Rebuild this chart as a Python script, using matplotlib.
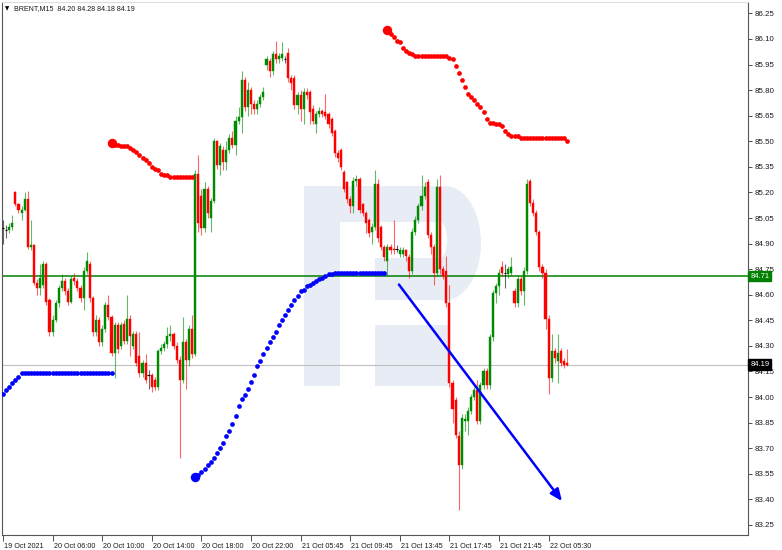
import matplotlib
matplotlib.use('Agg')
import matplotlib.pyplot as plt
from matplotlib.patches import Rectangle, Ellipse
import matplotlib.transforms as mtransforms

# ---------------- data ----------------
opens = [84.99, 84.98, 84.98, 85.00, 85.20, 85.13, 85.08, 85.10, 85.16, 84.88,
         84.89, 84.67, 84.64, 84.66, 84.78, 84.57, 84.38, 84.45, 84.55, 84.64,
         84.68, 84.62, 84.56, 84.70, 84.68, 84.64, 84.58, 84.74, 84.78, 84.58,
         84.38, 84.45, 84.32, 84.40, 84.54, 84.47, 84.26, 84.42, 84.30, 84.43,
         84.33, 84.46, 84.30, 84.37, 84.24, 84.14, 84.20, 84.13, 84.13, 84.10,
         84.06, 84.27, 84.29, 84.31, 84.36, 84.37, 84.30, 84.22, 84.10, 84.32,
         84.22, 84.40, 84.25, 85.31, 85.18, 84.99, 85.22, 85.05, 85.15, 85.50,
         85.36, 85.45, 85.38, 85.45, 85.52, 85.48, 85.62, 85.64, 85.86, 85.70,
         85.80, 85.72, 85.69, 85.72, 85.76, 85.95, 85.97, 85.91, 86.01, 85.98,
         85.99, 85.98, 86.02, 85.87, 85.87, 85.71, 85.77, 85.69, 85.79, 85.79,
         85.69, 85.60, 85.66, 85.68, 85.67, 85.66, 85.63, 85.56, 85.43, 85.45,
         85.32, 85.26, 85.16, 85.12, 85.27, 85.28, 85.13, 85.08, 85.04, 84.97,
         85.00, 85.25, 85.00, 84.88, 84.80, 84.88, 84.87, 84.87, 84.84, 84.84,
         84.86, 84.82, 84.74, 84.97, 85.04, 85.12, 85.18, 85.26, 84.95, 84.88,
         84.73, 85.23, 84.75, 84.74, 84.55, 84.08, 83.98, 83.77, 83.60, 83.86,
         83.86, 83.92, 84.00, 84.04, 83.86, 84.07, 84.15, 84.07, 84.35, 84.61,
         84.65, 84.76, 84.73, 84.72, 84.73, 84.62, 84.55, 84.69, 84.62, 84.74,
         85.27, 85.14, 85.08, 84.97, 84.76, 84.73, 84.46, 84.11, 84.27, 84.21,
         84.27, 84.21, 84.20]
highs = [85.04, 85.01, 85.02, 85.07, 85.21, 85.14, 85.12, 85.20, 85.21, 85.04,
         84.90, 84.69, 84.78, 84.80, 84.79, 84.58, 84.48, 84.57, 84.66, 84.72,
         84.70, 84.64, 84.71, 84.73, 84.70, 84.66, 84.76, 84.85, 84.80, 84.59,
         84.48, 84.47, 84.42, 84.56, 84.60, 84.48, 84.44, 84.44, 84.44, 84.45,
         84.60, 84.48, 84.39, 84.39, 84.38, 84.22, 84.25, 84.16, 84.14, 84.12,
         84.28, 84.31, 84.33, 84.41, 84.42, 84.38, 84.32, 84.24, 84.47, 84.34,
         84.42, 84.48, 85.33, 85.42, 85.22, 85.26, 85.24, 85.17, 85.52, 85.51,
         85.49, 85.47, 85.50, 85.54, 85.56, 85.65, 85.70, 85.91, 85.88, 85.85,
         85.82, 85.74, 85.74, 85.78, 85.82, 86.00, 85.99, 86.03, 86.09, 86.02,
         86.08, 86.00, 86.05, 85.89, 85.89, 85.79, 85.80, 85.81, 85.81, 85.80,
         85.71, 85.68, 85.70, 85.69, 85.78, 85.67, 85.64, 85.57, 85.45, 85.46,
         85.33, 85.27, 85.18, 85.29, 85.30, 85.29, 85.14, 85.09, 85.05, 85.02,
         85.33, 85.28, 85.01, 84.89, 84.90, 84.90, 85.04, 84.89, 84.88, 84.88,
         84.87, 84.84, 84.99, 85.06, 85.14, 85.30, 85.26, 85.28, 84.97, 84.90,
         85.28, 85.30, 84.77, 84.83, 84.66, 84.10, 84.00, 83.80, 83.90, 83.90,
         83.94, 84.02, 84.06, 84.10, 84.09, 84.17, 84.17, 84.37, 84.63, 84.67,
         84.75, 84.80, 84.78, 84.77, 84.82, 84.64, 84.71, 84.71, 84.76, 85.28,
         85.28, 85.16, 85.10, 84.98, 84.78, 84.75, 84.48, 84.37, 84.29, 84.37,
         84.29, 84.23, 84.28]
lows = [84.90, 84.93, 84.96, 84.98, 85.12, 85.08, 85.04, 85.09, 84.87, 84.86,
        84.66, 84.60, 84.60, 84.64, 84.54, 84.36, 84.36, 84.44, 84.53, 84.62,
        84.60, 84.54, 84.55, 84.66, 84.62, 84.56, 84.51, 84.72, 84.56, 84.36,
        84.36, 84.30, 84.30, 84.38, 84.45, 84.24, 84.11, 84.26, 84.28, 84.31,
        84.31, 84.24, 84.28, 84.18, 84.12, 84.12, 84.08, 84.05, 84.03, 84.04,
        84.04, 84.25, 84.27, 84.29, 84.33, 84.28, 84.20, 83.64, 84.08, 84.05,
        84.18, 84.23, 84.24, 84.97, 84.95, 84.97, 85.05, 84.97, 85.14, 85.34,
        85.30, 85.33, 85.33, 85.43, 85.46, 85.42, 85.60, 85.55, 85.68, 85.65,
        85.66, 85.66, 85.66, 85.70, 85.74, 85.92, 85.88, 85.89, 85.96, 85.96,
        85.97, 85.96, 85.85, 85.80, 85.69, 85.66, 85.62, 85.60, 85.75, 85.60,
        85.60, 85.55, 85.64, 85.64, 85.63, 85.58, 85.53, 85.41, 85.38, 85.33,
        85.20, 85.14, 85.08, 85.08, 85.24, 85.08, 85.06, 84.96, 84.94, 84.90,
        84.98, 84.91, 84.86, 84.80, 84.71, 84.84, 84.84, 84.85, 84.82, 84.82,
        84.80, 84.70, 84.72, 84.95, 85.02, 85.10, 85.16, 84.93, 84.84, 84.66,
        84.71, 84.72, 84.69, 84.53, 84.06, 83.85, 83.76, 83.34, 83.58, 83.80,
        83.78, 83.90, 83.98, 83.84, 83.84, 84.05, 84.05, 84.05, 84.33, 84.55,
        84.60, 84.71, 84.64, 84.70, 84.71, 84.53, 84.53, 84.60, 84.54, 84.72,
        85.12, 85.06, 84.95, 84.74, 84.70, 84.40, 84.02, 84.09, 84.20, 84.08,
        84.18, 84.17, 84.18]
closes = [84.99, 84.98, 85.00, 85.02, 85.13, 85.10, 85.10, 85.16, 84.88, 84.89,
          84.67, 84.64, 84.70, 84.78, 84.56, 84.38, 84.45, 84.55, 84.64, 84.68,
          84.62, 84.56, 84.69, 84.68, 84.64, 84.58, 84.74, 84.80, 84.58, 84.38,
          84.45, 84.32, 84.40, 84.54, 84.47, 84.26, 84.42, 84.28, 84.42, 84.33,
          84.46, 84.36, 84.37, 84.20, 84.14, 84.20, 84.10, 84.13, 84.06, 84.06,
          84.27, 84.29, 84.31, 84.36, 84.37, 84.30, 84.22, 84.10, 84.32, 84.22,
          84.40, 84.25, 85.31, 85.02, 84.99, 85.22, 85.08, 85.15, 85.50, 85.36,
          85.47, 85.38, 85.45, 85.52, 85.48, 85.62, 85.64, 85.86, 85.70, 85.80,
          85.72, 85.69, 85.72, 85.76, 85.79, 85.98, 85.91, 86.01, 85.98, 86.00,
          86.01, 85.98, 85.87, 85.84, 85.71, 85.77, 85.69, 85.79, 85.77, 85.67,
          85.62, 85.66, 85.68, 85.66, 85.65, 85.60, 85.55, 85.43, 85.40, 85.35,
          85.22, 85.16, 85.12, 85.27, 85.28, 85.10, 85.08, 85.02, 84.96, 85.00,
          85.25, 84.93, 84.88, 84.82, 84.88, 84.86, 84.86, 84.87, 84.86, 84.86,
          84.83, 84.74, 84.97, 85.04, 85.12, 85.18, 85.23, 84.95, 84.88, 84.73,
          85.23, 84.75, 84.71, 84.55, 84.08, 83.93, 83.78, 83.60, 83.88, 83.87,
          83.92, 84.00, 84.04, 83.86, 84.07, 84.15, 84.07, 84.35, 84.61, 84.65,
          84.73, 84.73, 84.73, 84.75, 84.76, 84.55, 84.69, 84.62, 84.74, 85.25,
          85.14, 85.08, 84.97, 84.76, 84.73, 84.46, 84.11, 84.27, 84.23, 84.26,
          84.20, 84.19, 84.19]

time_tick_bars = [0, 16, 32, 48, 64, 80, 96, 112, 128, 144, 160, 176]
time_tick_labels = ['19 Oct 2021', '20 Oct 06:00', '20 Oct 10:00', '20 Oct 14:00',
                    '20 Oct 18:00', '20 Oct 22:00', '21 Oct 05:45', '21 Oct 09:45',
                    '21 Oct 13:45', '21 Oct 17:45', '21 Oct 21:45', '22 Oct 05:30']
price_ticks = [83.25, 83.40, 83.55, 83.70, 83.85, 84.00, 84.15, 84.30, 84.45,
               84.60, 84.75, 84.90, 85.05, 85.20, 85.35, 85.50, 85.65, 85.80,
               85.95, 86.10, 86.25]

red_seg1_start = 35
red_seg1 = [85.49, 85.48, 85.48, 85.47, 85.47, 85.47, 85.46, 85.45, 85.44, 85.42,
            85.40, 85.39, 85.37, 85.35, 85.34, 85.33, 85.31, 85.30, 85.30, 85.29,
            85.29, 85.29, 85.29, 85.29, 85.29, 85.29, 85.29]
red_seg2_start = 124
red_seg2 = [86.15, 86.13, 86.11, 86.09, 86.08, 86.05, 86.03, 86.02, 86.01, 86.00,
            86.00, 86.00, 86.00, 86.00, 86.00, 86.00, 86.00, 86.00, 86.00, 86.00,
            85.99, 85.98, 85.94, 85.90, 85.86, 85.82, 85.78, 85.76, 85.74, 85.72,
            85.70, 85.67, 85.63, 85.61, 85.61, 85.60, 85.60, 85.59, 85.56, 85.54,
            85.53, 85.53, 85.53, 85.52, 85.52, 85.52, 85.52, 85.52, 85.52, 85.52,
            85.52, 85.52, 85.52, 85.52, 85.52, 85.52, 85.52, 85.52, 85.50]
blue_seg1_start = 0
blue_seg1 = [84.02, 84.04, 84.06, 84.08, 84.10, 84.12, 84.14, 84.14, 84.14, 84.14,
             84.14, 84.14, 84.14, 84.14, 84.14, 84.14, 84.14, 84.14, 84.14, 84.14,
             84.14, 84.14, 84.14, 84.14, 84.14, 84.14, 84.14, 84.14, 84.14, 84.14,
             84.14, 84.14, 84.14, 84.14, 84.14, 84.14]
blue_seg2_start = 62
blue_seg2 = [83.53, 83.54, 83.56, 83.58, 83.60, 83.62, 83.64, 83.67, 83.70, 83.73,
             83.77, 83.80, 83.84, 83.89, 83.95, 83.99, 84.01, 84.05, 84.09, 84.13,
             84.18, 84.21, 84.25, 84.29, 84.32, 84.35, 84.38, 84.42, 84.45, 84.48,
             84.51, 84.54, 84.57, 84.59, 84.62, 84.63, 84.65, 84.66, 84.67, 84.68,
             84.69, 84.70, 84.71, 84.72, 84.72, 84.73, 84.73, 84.73, 84.73, 84.73,
             84.73, 84.73, 84.73, 84.73, 84.73, 84.73, 84.73, 84.73, 84.73, 84.73,
             84.73, 84.73]
arrow_start = (127.7, 84.66)
arrow_end = (180.3, 83.39)
level_line = 84.71
bid_line = 84.19
title_text = 'BRENT,M15  84.20 84.28 84.18 84.19'

# ---------------- figure ----------------
W, H = 782, 550
fig = plt.figure(figsize=(W / 100, H / 100), dpi=100)
fig.patch.set_facecolor('white')
ax = fig.add_axes([2 / W, 15 / H, 746 / W, 533 / H])
ax.set_facecolor('white')

FONT = 'Liberation Sans'
BULL = '#008a00'
BEAR = '#ff0000'

# watermark logo (decoration) placed in figure pixel coords, drawn inside the axes
def px(x, y):
    return (x / W, 1 - y / H)

wm = '#e8edf5'
def wrect(x0, y0, x1, y1, color=wm):
    ax.add_patch(Rectangle(px(x0, y1), (x1 - x0) / W, (y1 - y0) / H,
                           transform=fig.transFigure, facecolor=color,
                           edgecolor='none', zorder=0.5, clip_on=False))
def wellipse(cx, cy, w, h, color=wm):
    ax.add_patch(Ellipse(px(cx, cy), w / W, h / H, transform=fig.transFigure,
                         facecolor=color, edgecolor='none', zorder=0.5, clip_on=False))

wrect(304, 186, 340, 386)
wrect(304, 186, 445, 222)
wellipse(445, 243, 72, 114)
wrect(375, 258, 445, 300)
wrect(375, 325, 448, 386)
wrect(340, 222, 440, 258, 'white')
wellipse(440, 240, 14, 36, 'white')

n = len(opens)
for i in range(n):
    o, h, l, c = opens[i], highs[i], lows[i], closes[i]
    if c > o:
        col = BULL
    elif c < o:
        col = BEAR
    else:
        col = 'black'
    ax.vlines(i, l, h, colors=col, linewidth=0.8, alpha=0.6, zorder=3)
    if c != o:
        ax.add_patch(Rectangle((i - 0.34, min(o, c)), 0.68, abs(c - o),
                               facecolor=col, edgecolor=col, linewidth=0.3, zorder=4))
    else:
        ax.hlines(o, i - 0.4, i + 0.4, colors='black', linewidth=0.8, zorder=4)

# horizontal lines
ax.axhline(level_line, color='#008000', linewidth=1.1, zorder=2)
ax.axhline(bid_line, color='#c0c0c0', linewidth=0.8, zorder=1)

# dotted indicator lines
def dots(start, vals, color, big=True):
    xx = [start + k for k in range(len(vals))]
    ax.plot(xx, vals, linestyle='none', marker='o', markersize=3.4,
            markerfacecolor=color, markeredgecolor='none', zorder=5)
    if big:
        ax.plot([xx[0]], [vals[0]], linestyle='none', marker='o', markersize=6.8,
                markerfacecolor=color, markeredgecolor='none', zorder=5)

dots(red_seg1_start, red_seg1, '#ff0000')
dots(red_seg2_start, red_seg2, '#ff0000')
dots(blue_seg1_start, blue_seg1, '#0000ff', big=False)
dots(blue_seg2_start, blue_seg2, '#0000ff')

# arrow
ax.annotate('', xy=arrow_end, xytext=arrow_start,
            arrowprops=dict(arrowstyle='-|>,head_length=0.7,head_width=0.3',
                            color='#0000ff', lw=1.8, shrinkA=0, shrinkB=0),
            zorder=6)

# axes limits
ax.set_xlim(-0.32, 240.3)
ax.set_ylim(83.191, 86.317)

# ticks
ax.yaxis.tick_right()
ax.set_yticks(price_ticks)
ax.set_yticklabels([f'{p:.2f}' for p in price_ticks], fontsize=5.7, family=FONT)
ax.tick_params(axis='y', direction='out', length=3, width=0.6, pad=2,
               colors='#333333', labelcolor='#1a1a1a')
ax.set_xticks(time_tick_bars)
ax.set_xticklabels(time_tick_labels, fontsize=5.2, family=FONT)
ax.tick_params(axis='x', direction='out', length=4, width=0.6, pad=1.5,
               colors='#333333', labelcolor='#1a1a1a')
offset = mtransforms.ScaledTranslation(1 / 100, 0, fig.dpi_scale_trans)
for lab in ax.get_xticklabels():
    lab.set_horizontalalignment('left')
    lab.set_transform(lab.get_transform() + offset)

for side in ['left', 'bottom', 'right', 'top']:
    ax.spines[side].set_color('#555555')
    ax.spines[side].set_linewidth(0.8)
ax.spines['top'].set_color('#dddddd')

# price label boxes
trans = mtransforms.blended_transform_factory(ax.transAxes, ax.transData)
ax.text(1.003, level_line, f'{level_line:.2f}', transform=trans, fontsize=5.5,
        family=FONT, color='white', va='center', ha='left',
        bbox=dict(boxstyle='square,pad=0.25', facecolor='#008000', edgecolor='#008000'),
        zorder=10, clip_on=False)
ax.text(1.003, bid_line, f'{bid_line:.2f}', transform=trans, fontsize=5.5,
        family=FONT, color='white', va='center', ha='left',
        bbox=dict(boxstyle='square,pad=0.25', facecolor='black', edgecolor='black'),
        zorder=10, clip_on=False)

# title
fig.text(5 / W, 1 - 9 / H, '\u25bc', fontsize=4, family='DejaVu Sans', color='black',
         va='center', ha='left')
fig.text(14 / W, 1 - 9 / H, title_text, fontsize=5.1, family=FONT, color='#1a1a1a',
         va='center', ha='left')

fig.savefig('out.png', dpi=100, facecolor='white')
